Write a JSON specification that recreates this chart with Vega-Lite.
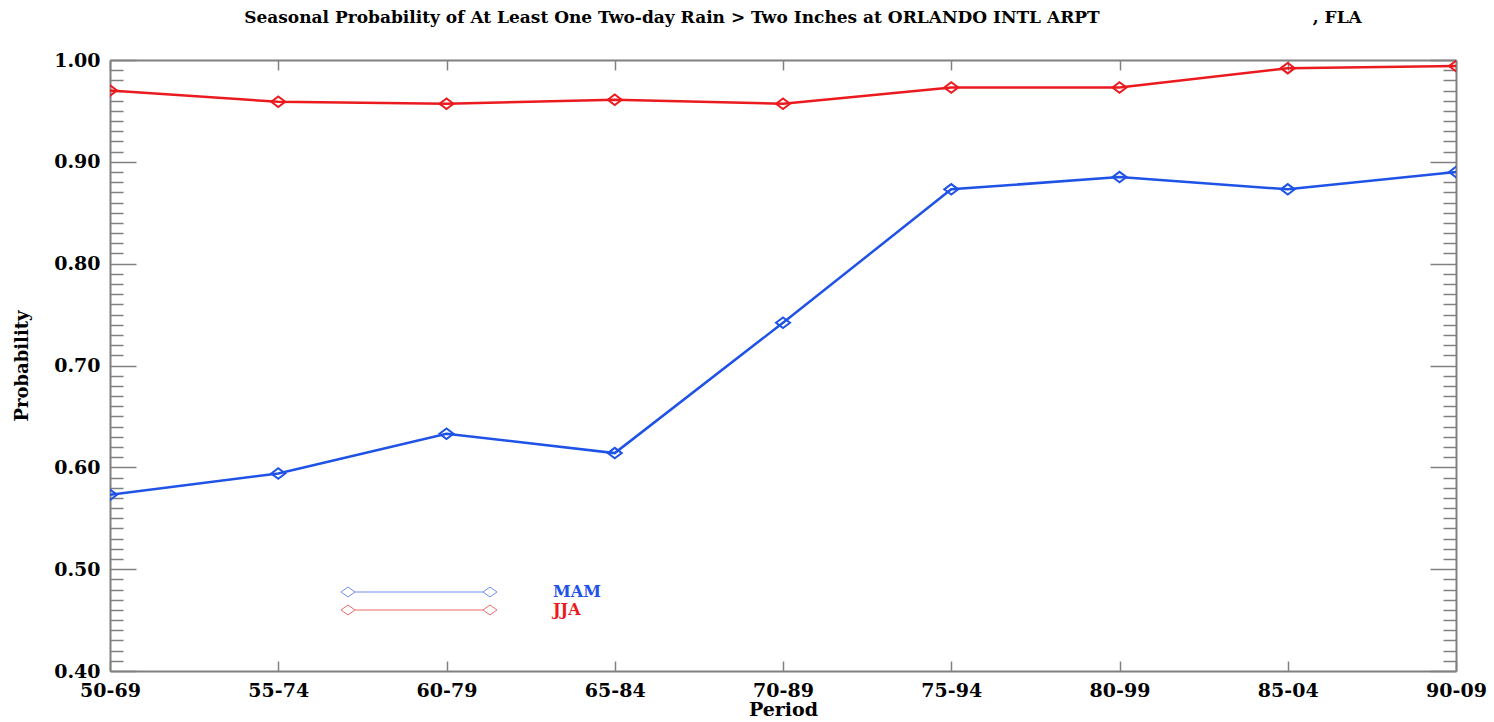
{
  "$schema": "https://vega.github.io/schema/vega-lite/v6.json",
  "width": 1346,
  "height": 611,
  "autosize": {"type": "none"},
  "padding": {"left": 110, "top": 60, "right": 38, "bottom": 51},
  "background": "white",
  "title": {
    "text": "Seasonal Probability of At Least One Two-day Rain > Two Inches at ORLANDO INTL ARPT\u00a0\u00a0\u00a0\u00a0\u00a0\u00a0\u00a0\u00a0\u00a0\u00a0\u00a0\u00a0\u00a0\u00a0\u00a0\u00a0\u00a0\u00a0\u00a0\u00a0\u00a0\u00a0\u00a0\u00a0\u00a0\u00a0\u00a0\u00a0\u00a0\u00a0\u00a0\u00a0\u00a0\u00a0\u00a0\u00a0, FLA",
    "font": "DejaVu Serif",
    "fontWeight": "bold",
    "fontSize": 17,
    "color": "black",
    "anchor": "middle",
    "dx": 20,
    "offset": 24
  },
  "config": {"view": {"stroke": null}},
  "data": {
    "values": [
      {"period": "50-69", "season": "MAM", "prob": 0.573},
      {"period": "55-74", "season": "MAM", "prob": 0.594},
      {"period": "60-79", "season": "MAM", "prob": 0.633},
      {"period": "65-84", "season": "MAM", "prob": 0.614},
      {"period": "70-89", "season": "MAM", "prob": 0.742},
      {"period": "75-94", "season": "MAM", "prob": 0.873},
      {"period": "80-99", "season": "MAM", "prob": 0.885},
      {"period": "85-04", "season": "MAM", "prob": 0.873},
      {"period": "90-09", "season": "MAM", "prob": 0.890},
      {"period": "50-69", "season": "JJA", "prob": 0.970},
      {"period": "55-74", "season": "JJA", "prob": 0.959},
      {"period": "60-79", "season": "JJA", "prob": 0.957},
      {"period": "65-84", "season": "JJA", "prob": 0.961},
      {"period": "70-89", "season": "JJA", "prob": 0.957},
      {"period": "75-94", "season": "JJA", "prob": 0.973},
      {"period": "80-99", "season": "JJA", "prob": 0.973},
      {"period": "85-04", "season": "JJA", "prob": 0.992},
      {"period": "90-09", "season": "JJA", "prob": 0.994}
    ]
  },
  "layer": [
    {
      "encoding": {
        "x": {
          "field": "period", "type": "ordinal", "sort": null,
          "scale": {"type": "point", "padding": 0},
          "axis": {
            "orient": "bottom", "title": "Period", "labelAngle": 0,
            "labelFont": "DejaVu Serif", "labelFontWeight": "bold", "labelFontSize": 19, "labelColor": "black",
            "labelFlush": false, "labelOverlap": false, "labelBound": false,
            "tickSize": -10, "tickColor": "#808080", "tickWidth": 1.5,
            "domainColor": "#808080", "domainWidth": 2,
            "labelPadding": 20,
            "titleFont": "DejaVu Serif", "titleFontWeight": "bold", "titleFontSize": 19, "titleColor": "black",
            "titlePadding": 0
          }
        },
        "y": {
          "field": "prob", "type": "quantitative",
          "scale": {"domain": [0.4, 1.0], "nice": false, "zero": false},
          "axis": {
            "orient": "left", "title": "Probability", "grid": false,
            "values": [0.4,0.41,0.42,0.43,0.44,0.45,0.46,0.47,0.48,0.49,0.5,0.51,0.52,0.53,0.54,0.55,0.56,0.57,0.58,0.59,0.6,0.61,0.62,0.63,0.64,0.65,0.66,0.67,0.68,0.69,0.7,0.71,0.72,0.73,0.74,0.75,0.76,0.77,0.78,0.79,0.8,0.81,0.82,0.83,0.84,0.85,0.86,0.87,0.88,0.89,0.9,0.91,0.92,0.93,0.94,0.95,0.96,0.97,0.98,0.99,1.0],
            "labelExpr": "abs(datum.value*10 - round(datum.value*10)) < 0.001 ? format(datum.value, '.2f') : ''",
            "tickSize": {"condition": {"test": "abs(datum.value*10 - round(datum.value*10)) < 0.001", "value": -26}, "value": -13},
            "tickColor": "#808080", "tickWidth": 1.5,
            "domainColor": "#808080", "domainWidth": 2,
            "labelFont": "DejaVu Serif", "labelFontWeight": "bold", "labelFontSize": 19, "labelColor": "black",
            "labelPadding": 36, "labelOverlap": false, "labelFlush": false, "labelBound": false,
            "titleFont": "DejaVu Serif", "titleFontWeight": "bold", "titleFontSize": 18, "titleColor": "black",
            "titlePadding": 22
          }
        },
        "color": {
          "field": "season", "type": "nominal",
          "scale": {"domain": ["MAM", "JJA"], "range": ["#1f52e6", "#eb1a1f"]},
          "legend": {
            "orient": "none", "legendX": 301, "legendY": 524, "title": null, "padding": 0,
            "symbolType": "M-11.14,0L-10.14,-0.71L-9.14,0L-10.14,0.71Z M9.14,0L10.14,-0.71L11.14,0L10.14,0.71Z M-9.14,0L9.14,0",
            "symbolSize": 196, "symbolStrokeWidth": 1, "symbolFillColor": "transparent", "symbolOpacity": 0.65,
            "labelOffset": 126, "labelFont": "DejaVu Serif", "labelFontWeight": "bold", "labelFontSize": 16,
            "labelBaseline": "middle", "rowPadding": 2,
            "encode": {"labels": {"update": {"fill": {"signal": "datum.value === 'MAM' ? '#1f52e6' : '#eb1a1f'"}}}}
          }
        }
      },
      "layer": [
        {"mark": {"type": "line", "clip": true, "strokeWidth": 2.5}},
        {"mark": {"type": "point", "clip": true, "filled": false, "shape": "M-1,0L0,-0.75L1,0L0,0.75Z", "size": 196, "strokeWidth": 2, "opacity": 1}}
      ]
    },
    {
      "mark": {"type": "line", "opacity": 0},
      "encoding": {
        "x": {
          "field": "period", "type": "ordinal", "sort": null,
          "scale": {"type": "point", "padding": 0},
          "axis": {"orient": "top", "title": null, "labels": false, "tickSize": -10, "tickColor": "#808080", "tickWidth": 1.5, "domainColor": "#808080", "domainWidth": 2}
        },
        "y": {
          "field": "prob", "type": "quantitative",
          "scale": {"domain": [0.4, 1.0], "nice": false, "zero": false},
          "axis": {
            "orient": "right", "title": null, "labels": false, "grid": false,
            "values": [0.4,0.41,0.42,0.43,0.44,0.45,0.46,0.47,0.48,0.49,0.5,0.51,0.52,0.53,0.54,0.55,0.56,0.57,0.58,0.59,0.6,0.61,0.62,0.63,0.64,0.65,0.66,0.67,0.68,0.69,0.7,0.71,0.72,0.73,0.74,0.75,0.76,0.77,0.78,0.79,0.8,0.81,0.82,0.83,0.84,0.85,0.86,0.87,0.88,0.89,0.9,0.91,0.92,0.93,0.94,0.95,0.96,0.97,0.98,0.99,1.0],
            "tickSize": {"condition": {"test": "abs(datum.value*10 - round(datum.value*10)) < 0.001", "value": -26}, "value": -13},
            "tickColor": "#808080", "tickWidth": 1.5,
            "domainColor": "#808080", "domainWidth": 2
          }
        },
        "detail": {"field": "season", "type": "nominal"}
      }
    }
  ],
  "resolve": {"scale": {"x": "independent", "y": "independent"}}
}
